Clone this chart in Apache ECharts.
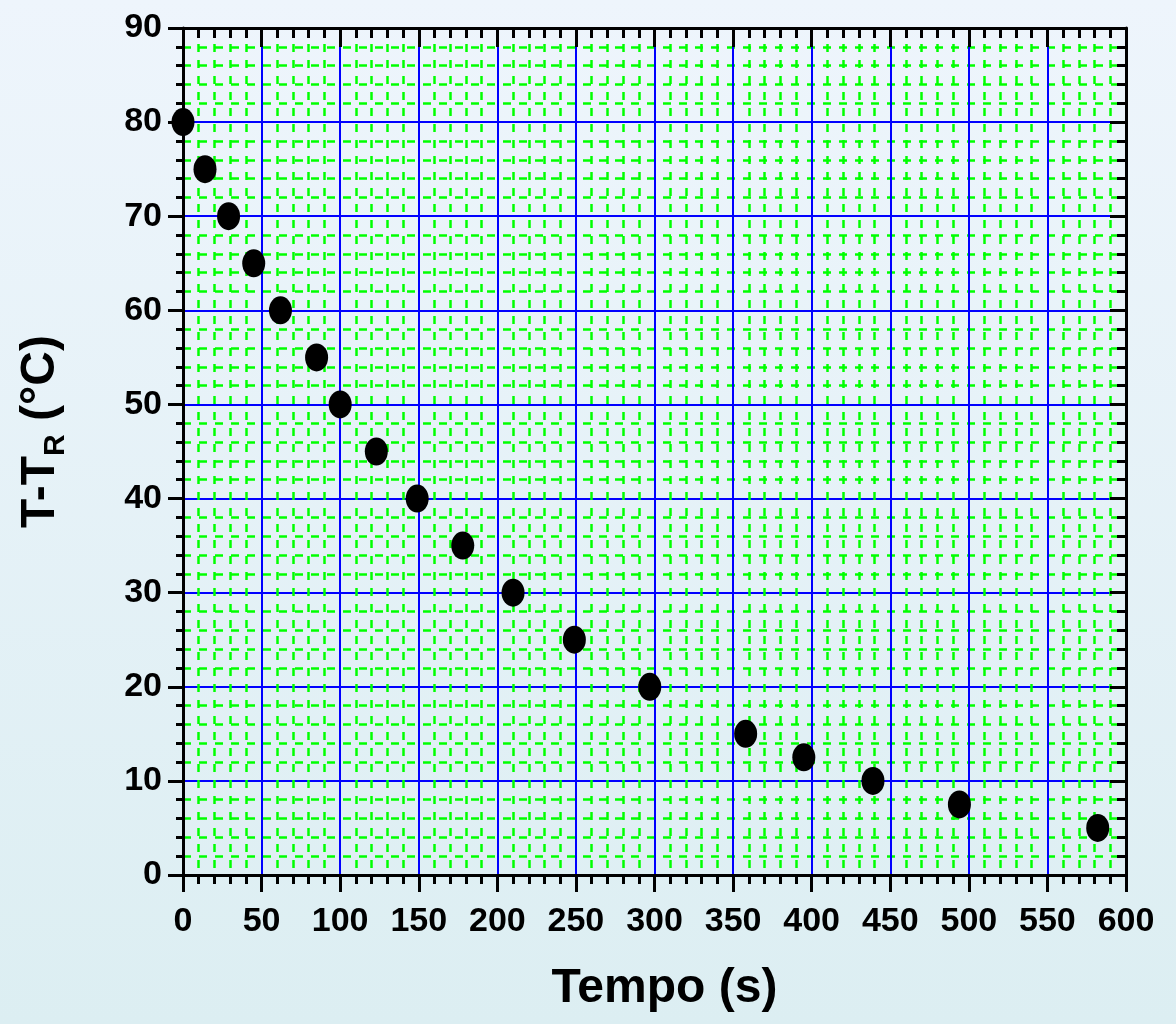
<!DOCTYPE html>
<html>
<head>
<meta charset="utf-8">
<script src="https://cdn.jsdelivr.net/npm/echarts@6/dist/echarts.min.js"></script>
<style>
  html, body { margin: 0; padding: 0; }
  #chart { width: 1176px; height: 1024px; }
</style>
</head>
<body>
<div id="chart"></div>
<script>
// tempo (s) vs T-T_R (°C)
var tempo = [0, 14, 29, 45, 62, 85, 100, 123, 149, 178, 210, 249, 297, 358, 395, 439, 494, 582];
var deltaT = [80, 75, 70, 65, 60, 55, 50, 45, 40, 35, 30, 25, 20, 15, 12.5, 10, 7.5, 5];

var points = tempo.map(function (t, i) { return [t, deltaT[i]]; });

var fontFam = "'Liberation Sans', Arial, sans-serif";
var black = "#000";

var chart = echarts.init(document.getElementById("chart"));

var axisLine = { show: true, onZero: false, lineStyle: { color: black, width: 3 } };
var minorGrid = { show: true, lineStyle: { color: "#00ff00", width: 2.5, type: [8, 8] } };
var majorGrid = { show: true, lineStyle: { color: "#0000ff", width: 2 } };

chart.setOption({
  backgroundColor: {
    type: "linear", x: 0, y: 0, x2: 0, y2: 1,
    colorStops: [
      { offset: 0, color: "#eef5fc" },
      { offset: 1, color: "#dceef2" }
    ]
  },
  animation: false,
  grid: { left: 183, right: 50, top: 28, bottom: 149 },
  xAxis: [
    {
      type: "value", position: "bottom", min: 0, max: 600, interval: 50,
      name: "Tempo (s)", nameLocation: "middle", nameGap: 90,
      nameTextStyle: { fontFamily: fontFam, fontWeight: "bold", fontSize: 48, color: black, padding: [0, 0, 0, 20] },
      axisLine: axisLine,
      axisTick: { show: true, length: 17, lineStyle: { color: black, width: 3 } },
      minorTick: { show: true, splitNumber: 5, length: 9, lineStyle: { color: black, width: 3 } },
      axisLabel: { margin: 30, fontFamily: fontFam, fontWeight: "bold", fontSize: 34, color: black },
      splitLine: majorGrid,
      minorSplitLine: minorGrid
    },
    {
      type: "value", position: "top", min: 0, max: 600, interval: 50,
      axisLine: axisLine,
      axisTick: { show: true, inside: true, length: 19, lineStyle: { color: black, width: 3 } },
      minorTick: { show: true, splitNumber: 5, length: 10, lineStyle: { color: black, width: 3 } },
      axisLabel: { show: false },
      splitLine: { show: false }
    }
  ],
  yAxis: [
    {
      type: "value", position: "left", min: 0, max: 90, interval: 10,
      name: "T-T{sub|R} (°C)", nameLocation: "middle", nameGap: 112, nameRotate: 90,
      nameTextStyle: {
        fontFamily: fontFam, fontWeight: "bold", fontSize: 48, color: black,
        padding: [0, 0, 0, 40],
        rich: {
          sub: { fontFamily: fontFam, fontWeight: "bold", fontSize: 30, color: black, padding: [30, 0, 0, 0] }
        }
      },
      axisLine: axisLine,
      axisTick: { show: true, length: 15, lineStyle: { color: black, width: 3 } },
      minorTick: { show: true, splitNumber: 5, length: 7, lineStyle: { color: black, width: 3 } },
      axisLabel: { margin: 21, fontFamily: fontFam, fontWeight: "bold", fontSize: 34, color: black },
      splitLine: majorGrid,
      minorSplitLine: minorGrid
    },
    {
      type: "value", position: "right", min: 0, max: 90, interval: 10,
      axisLine: axisLine,
      axisTick: { show: true, inside: true, length: 16, lineStyle: { color: black, width: 3 } },
      minorTick: { show: true, splitNumber: 5, length: 9, lineStyle: { color: black, width: 3 } },
      axisLabel: { show: false },
      splitLine: { show: false }
    }
  ],
  series: [
    {
      type: "scatter",
      xAxisIndex: 0,
      yAxisIndex: 0,
      data: points,
      symbol: "circle",
      symbolSize: [23, 28],
      itemStyle: { color: black, opacity: 1 },
      clip: false
    }
  ]
});
</script>
</body>
</html>
